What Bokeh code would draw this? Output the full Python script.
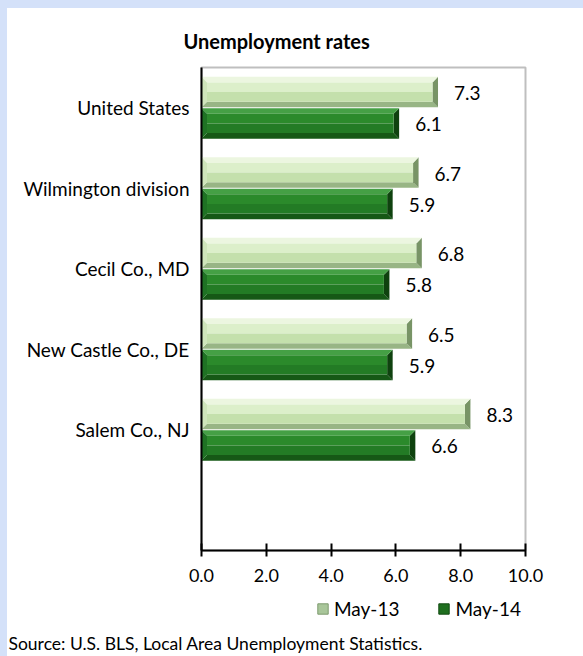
from bokeh.plotting import figure
from bokeh.layouts import column
from bokeh.models import (Range1d, FixedTicker, NumeralTickFormatter, Label,
                          Legend, LegendItem, ColumnDataSource)
from bokeh.core.properties import value
from bokeh.embed import file_html
from bokeh.resources import INLINE

# ---- data ----
categories = ["United States", "Wilmington division", "Cecil Co., MD",
              "New Castle Co., DE", "Salem Co., NJ"]
may13 = [7.3, 6.7, 6.8, 6.5, 8.3]
may14 = [6.1, 5.9, 5.8, 5.9, 6.6]
series_names = ["May-13", "May-14"]
x_ticks = [0, 2, 4, 6, 8, 10]
title_text = "Unemployment rates"
source_text = "Source: U.S. BLS, Local Area Unemployment Statistics."

FONT = "Lato"
W = 576
H1, H2 = 580, 68
FL, FR, FT, FB = 194, 518, 59, 542  # frame box in px of the main figure

p = figure(width=W, height=H1, output_backend="svg", toolbar_location=None,
           x_range=Range1d(0, 10), y_range=Range1d(-0.5, 5.5),
           min_border_left=FL, min_border_right=W - FR,
           min_border_top=FT, min_border_bottom=H1 - FB,
           background_fill_color="white", border_fill_color="white")
p.frame_align = False
p.grid.visible = False
p.outline_line_color = "#BFBFBF"
p.outline_line_width = 2

# title
p.title.text = title_text
p.title.align = "left"
p.title.offset = -18
p.title.standoff = 30
p.title.text_font = FONT
p.title.text_font_size = "20px"
p.title.text_font_style = "bold"
p.title.text_color = "black"

# x axis
xa = p.xaxis[0]
xa.ticker = FixedTicker(ticks=x_ticks)
xa.formatter = NumeralTickFormatter(format="0.0")
xa.axis_line_color = "black"
xa.axis_line_width = 2
xa.major_tick_line_color = "black"
xa.major_tick_line_width = 2
xa.major_tick_in = 7
xa.major_tick_out = 6
xa.minor_tick_line_color = None
xa.major_label_text_font = FONT
xa.major_label_text_font_size = "18px"
xa.major_label_text_color = "black"
xa.major_label_standoff = 12

# y axis (categories)
centers = [len(categories) - i for i in range(len(categories))]  # 5..1
ya = p.yaxis[0]
ya.ticker = FixedTicker(ticks=centers)
ya.major_label_overrides = {c: n for c, n in zip(centers, categories)}
ya.axis_line_color = "black"
ya.axis_line_width = 2
ya.major_tick_line_color = None
ya.minor_tick_line_color = None
ya.major_label_text_font = FONT
ya.major_label_text_font_size = "19px"
ya.major_label_text_color = "black"
ya.major_label_standoff = 6

# ---- bevelled bars ----
bx, by = 0.17, 0.07
half = 0.38


def bevel_parts(vals, lo_off, hi_off):
    parts = {k: ([], []) for k in ["top", "bottom", "left", "right"]}
    face_up = dict(left=[], right=[], top=[], bottom=[])
    face_lo = dict(left=[], right=[], top=[], bottom=[])
    for v, c in zip(vals, centers):
        b, t = c + lo_off, c + hi_off
        parts["top"][0].append([0, v, v - bx, bx])
        parts["top"][1].append([t, t, t - by, t - by])
        parts["bottom"][0].append([0, v, v - bx, bx])
        parts["bottom"][1].append([b, b, b + by, b + by])
        parts["left"][0].append([0, bx, bx, 0])
        parts["left"][1].append([t, t - by, b + by, b])
        parts["right"][0].append([v, v - bx, v - bx, v])
        parts["right"][1].append([t, t - by, b + by, b])
        m = (t + b) / 2
        face_up["left"].append(bx); face_up["right"].append(v - bx)
        face_up["top"].append(t - by); face_up["bottom"].append(m)
        face_lo["left"].append(bx); face_lo["right"].append(v - bx)
        face_lo["top"].append(m); face_lo["bottom"].append(b + by)
    return parts, face_up, face_lo


styles = [
    dict(vals=may13, lo=0.005, hi=0.005 + half,
         top="#ECF6E0", bottom="#98B585", left="#CFE6BB", right="#789466",
         fu="#DCEFCA", fl="#C4E0AC", legend="#A9C69A", legend_line="#7E9A6E"),
    dict(vals=may14, lo=-0.005 - half, hi=-0.005,
         top="#45A045", bottom="#165816", left="#1F7224", right="#0F420F",
         fu="#2B8A2B", fl="#237B25", legend="#1F6F1F", legend_line="#124A12"),
]

for st in styles:
    parts, fu, fl = bevel_parts(st["vals"], st["lo"], st["hi"])
    for key in ["bottom", "right", "top", "left"]:
        p.patches(xs=parts[key][0], ys=parts[key][1], fill_color=st[key],
                  line_color=None)
    p.quad(source=ColumnDataSource(fu), left="left", right="right", top="top",
           bottom="bottom", fill_color=st["fu"], line_color=None)
    p.quad(source=ColumnDataSource(fl), left="left", right="right", top="top",
           bottom="bottom", fill_color=st["fl"], line_color=None)
    ys = [c + (st["lo"] + st["hi"]) / 2 for c in centers]
    p.text(x=st["vals"], y=ys, text=[f"{v:.1f}" for v in st["vals"]],
           x_offset=16, y_offset=1, text_align="left", text_baseline="middle",
           text_font=value(FONT), text_font_size="19px", text_color="black")

# ---- footer figure: legend + source ----
f = figure(width=W, height=H2, output_backend="svg", toolbar_location=None,
           x_range=Range1d(0, W), y_range=Range1d(0, H2),
           x_axis_type=None, y_axis_type=None, min_border=0,
           background_fill_color="white", border_fill_color="white")
f.frame_align = False
f.grid.visible = False
f.outline_line_color = None

nan = float("nan")
legend_items = []
for name, st in zip(series_names, styles):
    # swatch proxies (NaN geometry: drawn only as legend swatches)
    r = f.quad(left=[nan], right=[nan], top=[nan], bottom=[nan],
               fill_color=st["legend"], line_color=st["legend_line"])
    legend_items.append(LegendItem(label=name, renderers=[r], index=0))

legend = Legend(items=legend_items, orientation="horizontal",
                location=(309, 36), glyph_width=13, glyph_height=13,
                label_standoff=5, spacing=38, padding=0, margin=0,
                border_line_color=None, background_fill_alpha=0,
                label_text_font=FONT, label_text_font_size="19px",
                label_text_color="black", label_height=17)
f.add_layout(legend, "center")

f.add_layout(Label(x=1, y=13, x_units="screen", y_units="screen",
                   text=source_text, text_align="left", text_baseline="middle",
                   text_font=FONT, text_font_size="17.5px", text_color="black"))

layout = column(p, f, spacing=0, styles={"background-color": "white"})

html = file_html(layout, INLINE)
html = html.replace(
    "</head>",
    "<style>body{background-color:#D4E1F9 !important;"
    "padding:8px 0 0 7px !important;}</style></head>", 1)
open("out.html", "w").write(html)
